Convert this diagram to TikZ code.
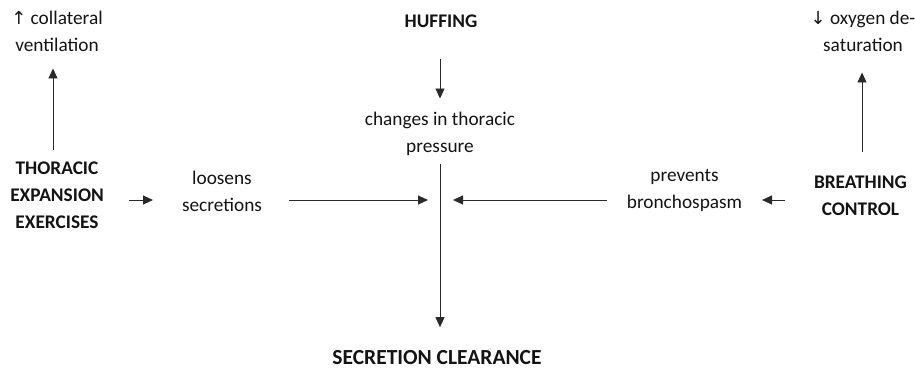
\documentclass[tikz,border=0pt]{standalone}
\usepackage{fontspec}
\setmainfont{Carlito}
\newfontfamily\symfont{DejaVu Sans}
\usetikzlibrary{arrows.meta}
\definecolor{ink}{HTML}{141414}
\definecolor{wire}{HTML}{2A2A2A}
\begin{document}
\begin{tikzpicture}[x=1pt,y=-1pt,
  lbl/.style={font=\fontsize{19.3}{27}\selectfont, align=center, inner sep=0pt, text=ink},
  key/.style={lbl, font=\fontsize{19.3}{27}\selectfont\bfseries},
  arr/.style={draw=wire, line width=0.9pt, -{Triangle[length=10pt,width=9pt]}}]
\useasboundingbox (0,0) rectangle (915,369);
\node[lbl] (coll) at (57,31.5) {{\symfont\fontsize{18}{27}\selectfont↑} collateral\\ventilation};
\node[key] (thor) at (57,195) {THORACIC\\EXPANSION\\EXERCISES};
\node[key] (huff) at (441,21) {HUFFING};
\node[lbl] (chg) at (440,133.5) {changes in thoracic\\pressure};
\node[lbl] (loos) at (222,191) {loosens\\secretions};
\node[lbl] (prev) at (684.5,190.5) {prevents\\bronchospasm};
\node[key] (brth) at (860.5,196) {BREATHING\\CONTROL};
\node[lbl] (oxy) at (863,31.5) {{\symfont\fontsize{18}{27}\selectfont↓} oxygen de-\\saturation};
\node[key, font=\fontsize{21.5}{27}\selectfont\bfseries] (secr) at (437,358) {SECRETION CLEARANCE};
\coordinate (jn) at (440,200);
% vertical arrows
\draw[arr, shorten <=11.5pt, shorten >=16.5pt] ([xshift=-4pt]thor.north) -- ([xshift=-4pt]thor.north |- coll.south);
\draw[arr, shorten <=23.5pt, shorten >=20.5pt] ([xshift=1.5pt]brth.north) -- ([xshift=1.5pt]brth.north |- oxy.south);
\draw[arr, shorten <=31pt, shorten >=13pt] (huff.south -| chg.south) -- (chg.north);
\draw[arr, shorten <=8.5pt, shorten >=23.5pt] (chg.south) -- (chg.south |- secr.north);
% horizontal arrows
\draw[arr, shorten <=72pt, shorten >=69pt] (thor.center |- jn) -- (loos.center |- jn);
\draw[arr, shorten <=67pt, shorten >=12pt] (loos.center |- jn) -- (jn);
\draw[arr, shorten <=77.5pt, shorten >=13pt] (prev.center |- jn) -- (jn);
\draw[arr, shorten <=75.5pt, shorten >=77.5pt] (brth.center |- jn) -- (prev.center |- jn);
\end{tikzpicture}
\end{document}
